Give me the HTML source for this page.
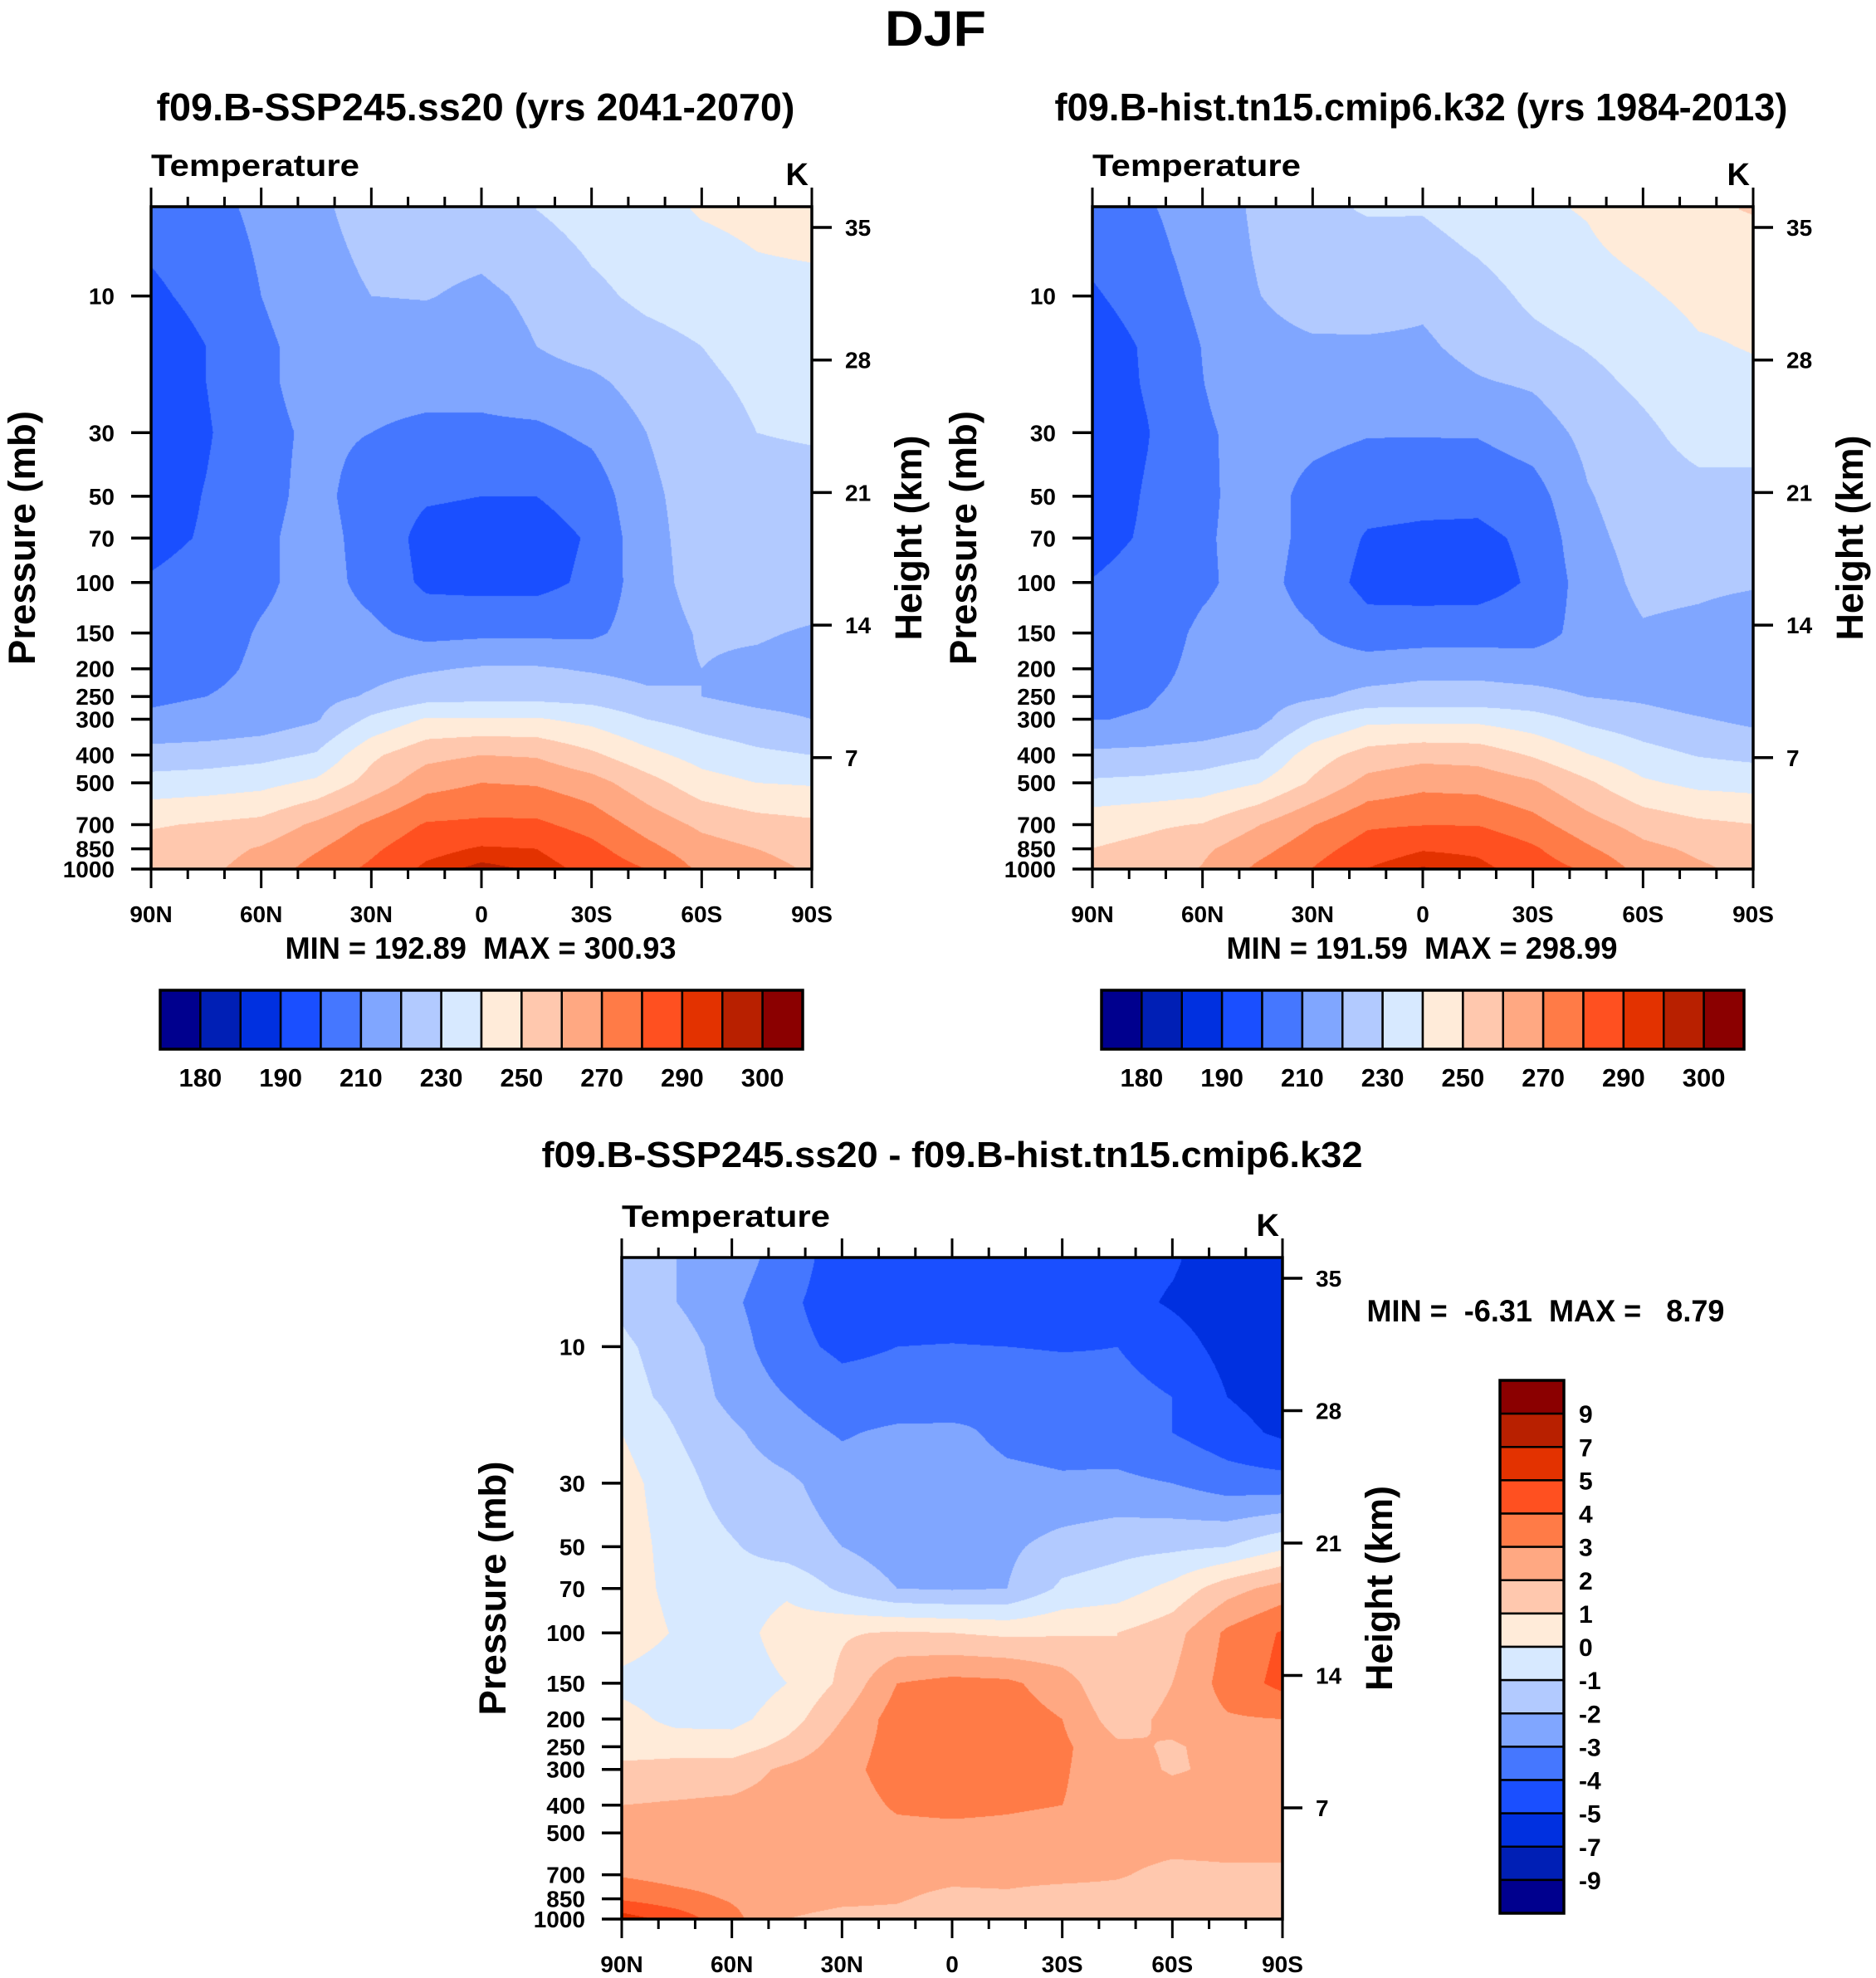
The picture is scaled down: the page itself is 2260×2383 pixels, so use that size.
<!DOCTYPE html>
<html><head><meta charset="utf-8">
<style>
html,body{margin:0;padding:0;background:#fff;}
#wrap{position:relative;width:2260px;height:2383px;overflow:hidden;background:#fff;}
canvas{position:absolute;}
svg{position:absolute;left:0;top:0;}
text{font-family:"Liberation Sans",sans-serif;font-weight:bold;fill:#000;white-space:pre;}
</style></head>
<body>
<div id="wrap">
<canvas id="cA" width="796" height="798" style="left:182px;top:249px"></canvas>
<canvas id="cB" width="796" height="798" style="left:1316px;top:249px"></canvas>
<canvas id="cD" width="796" height="797" style="left:749px;top:1515px"></canvas>
<svg id="ov" width="2260" height="2383"></svg>
</div>
<script>
// ---- data ----
const lats = ["90N","75N","60N","45N","30N","15N","0","15S","30S","45S","60S","75S","90S"];
const latTickLabels = ["90N","60N","30N","0","30S","60S","90S"];
const plevs = [5,7,10,15,20,30,50,70,100,150,200,250,300,400,500,700,850,1000];
const pTicks = [10,30,50,70,100,150,200,250,300,400,500,700,850,1000];
const hTicks = [35,28,21,14,7];
const fieldA = [
[205,207,212,218,224,226,226,230,234,236,241,243,245],
[201,205,211,217,222,223,222,226,231,234,237,240,241],
[198,203,210,216,220,220.5,218,222,228,232,234,237,237],
[194,200,208,214,215,215,215,220,224,227,230,234,235],
[194,200,208,214,213,213,213,216,218,224,228,232,233],
[194,199,207,212,210,208,208,208,212,220,225,230,231],
[195,200.5,207,213,205,201,200,200,204,218,224,226,226],
[197,201,208,214,206,197,196,196,201,217,224,225,225],
[201,204,208,214,207,198,197,197,202,216,224,225,225],
[204,205,211,214,212,207,208,208,208,215,221,221,219],
[205,207,212,215,217,219,221,221,219,217,220,218,216],
[209,210,213,217,221,226,227,227,226,222,220,217,216],
[211,212,214,219,232,241,241,241,237,230,226,223,220],
[224,225,227,231,248,257,260,259,252,243,236,232,230],
[234,235,237,242,254,266,270,269,264,254,244,240,239],
[249,251,253,262,272,281,282,282,276,266,258,254,252],
[254,256,261,269,278,287,291,290,283,273,264,260,257],
[256,258,264,274,282,292,297,294,287,280,268,263,259]];
const fieldD = [
[-1.5,-2,-2.5,-3.5,-4.5,-4.5,-4.6,-4.6,-4.6,-4.6,-4.9,-5.5,-5.5],
[-1.2,-2,-2.8,-3.8,-4.5,-4.6,-4.6,-4.7,-4.7,-4.7,-5.1,-5.5,-5.6],
[-0.8,-1.5,-2.5,-3.7,-4.2,-4.0,-3.95,-4.0,-4.1,-4.0,-4.6,-5.3,-5.5],
[-0.6,-1.3,-2.3,-3.0,-3.6,-3.6,-3.5,-3.0,-3.2,-3.6,-4.0,-5.0,-5.5],
[0,-1.0,-1.8,-2.6,-3.1,-2.8,-2.8,-3.2,-3.3,-3.5,-4.0,-4.6,-5.2],
[0.4,-0.6,-1.5,-1.8,-2.5,-2.6,-2.6,-2.8,-2.9,-2.8,-3.0,-3.5,-3.6],
[0.5,-0.4,-0.9,-1.5,-2.0,-2.5,-2.6,-2.2,-1.6,-1.3,-1.2,-1.0,-0.2],
[0.5,-0.3,-0.6,-0.2,-1.2,-2.0,-2.1,-2.0,-0.8,-0.5,0.3,1.6,2.4],
[0.6,-0.1,-0.5,0.5,0.9,1.1,1.0,0.8,0.9,1.0,1.6,3.2,4.1],
[-0.3,-0.6,-0.6,0,1.2,3.0,3.3,3.2,2.5,1.0,2.0,3.4,4.3],
[0.4,-0.3,-0.3,0.5,2.0,3.5,3.5,3.5,3.0,1.5,2.3,2.9,3.0],
[0.5,0.6,0.5,1.3,2.5,3.4,3.5,3.5,3.2,2.2,1.9,2.3,2.2],
[1.3,1.4,1.5,2.2,2.7,3.4,3.5,3.4,3.1,2.4,1.9,2.2,2.3],
[2.0,2.1,2.2,2.4,2.6,3.1,3.2,3.1,3.0,2.6,2.5,2.5,2.5],
[2.5,2.5,2.5,2.5,2.6,2.8,2.8,2.8,2.7,2.5,2.5,2.5,2.5],
[2.9,2.6,2.5,2.5,2.5,2.4,2.3,2.3,2.3,2.1,1.7,1.8,1.8],
[3.9,3.4,2.9,2.4,2.2,2.1,1.7,1.8,1.5,1.6,1.6,1.6,1.6],
[5.5,4.6,3.3,2.0,1.7,1.7,1.2,1.5,1.5,1.5,1.5,1.5,1.5]];
const levelsAbs = [180,185,190,200,210,220,230,240,250,260,270,280,290,295,300];
const levelsDiff = [-9,-7,-5,-4,-3,-2,-1,0,1,2,3,4,5,7,9];
const absLabels = ["180","190","210","230","250","270","290","300"];
const diffLabels = ["9","7","5","4","3","2","1","0","-1","-2","-3","-4","-5","-7","-9"];
const colors = ["#00008e","#001fb5","#0030e0","#1a4fff","#4577ff","#80a6ff","#b2caff","#d7e9ff","#ffebd9","#ffc8ae","#ffa882","#ff7b47","#ff5020","#e33200","#b82000","#8b0000"];
// hist field = SSP245 field minus difference
const fieldB = fieldA.map((r,i)=>r.map((v,j)=>v - fieldD[i][j]));

// ---- axis functions ----
const PTOP = 4.88;
const lgTop = Math.log10(PTOP), lgBot = 3;
function yOfP(p, h){ return (Math.log10(p)-lgTop)/(lgBot-lgTop)*h; }
function yOfH(km, h){ return (25 + (35-km)/7*159.7)/798*h; }
function rgb(h){return [parseInt(h.substr(1,2),16),parseInt(h.substr(3,2),16),parseInt(h.substr(5,2),16)];}
const crgb = colors.map(rgb);
function binOf(v, lev){ let k=0; while(k<lev.length && v>=lev[k]) k++; return k; }
const lgP = plevs.map(p=>Math.log10(p));
function sample(f, fx, lg){
  const n=lats.length-1; let xi=fx*n; let i=Math.min(Math.floor(xi),n-1); const tx=xi-i;
  let j=0; if(lg<=lgP[0]){j=0;} else { while(j<lgP.length-2 && lg>lgP[j+1]) j++; }
  let ty=(lg-lgP[j])/(lgP[j+1]-lgP[j]); ty=Math.max(0,Math.min(1,ty));
  const a=f[j][i],b=f[j][i+1],c=f[j+1][i],d=f[j+1][i+1];
  return (a*(1-tx)+b*tx)*(1-ty)+(c*(1-tx)+d*tx)*ty;
}
function draw(id, f, lev){
  const cv=document.getElementById(id), ctx=cv.getContext('2d');
  const W=cv.width,H=cv.height, img=ctx.createImageData(W,H);
  for(let y=0;y<H;y++){
    const lg=lgTop+(y+0.5)/H*(lgBot-lgTop);
    for(let x=0;x<W;x++){
      const v=sample(f,(x+0.5)/W,lg); const c=crgb[binOf(v,lev)]; const o=(y*W+x)*4;
      img.data[o]=c[0];img.data[o+1]=c[1];img.data[o+2]=c[2];img.data[o+3]=255;
    }
  }
  ctx.putImageData(img,0,0);
}
draw('cA',fieldA,levelsAbs); draw('cB',fieldB,levelsAbs); draw('cD',fieldD,levelsDiff);

// ---- SVG overlay ----
const NS="http://www.w3.org/2000/svg", ov=document.getElementById('ov');
function el(tag, at, parent){ const e=document.createElementNS(NS,tag); for(const k in at) e.setAttribute(k,at[k]); (parent||ov).appendChild(e); return e; }
function txt(s,x,y,size,anchor,name,len,rot){
  const t=el('text',{x:x,y:y,'font-size':size,'text-anchor':anchor||'middle'});
  if(len){t.setAttribute('textLength',len);t.setAttribute('lengthAdjust','spacingAndGlyphs');}
  if(rot) t.setAttribute('transform','rotate(-90 '+x+' '+y+')');
  t.textContent=s;
  
  
  return t;
}
txt("DJF",1127,55,60,'middle','figure-title',122);

function axes(L,T,W,H,pfx){
  const g=el('g',{});
  
  
  el('rect',{x:L,y:T,width:W,height:H,fill:'none',stroke:'#000','stroke-width':3.5},g);
  for(let d=0; d<=18; d++){
    const x=L+d/18*W, major=d%3===0, len=major?23:12;
    el('line',{x1:x,y1:T,x2:x,y2:T-len,stroke:'#000','stroke-width':3},g);
    el('line',{x1:x,y1:T+H,x2:x,y2:T+H+len,stroke:'#000','stroke-width':3},g);
  }
  latTickLabels.forEach((s,i)=>{ txt(s,L+i/6*W,T+H+64,28,'middle',pfx+'-lat-label-'+s); });
  pTicks.forEach(p=>{ const y=T+yOfP(p,H);
    el('line',{x1:L,y1:y,x2:L-24,y2:y,stroke:'#000','stroke-width':3.5},g);
    txt(String(p),L-44,y+10,28,'end',pfx+'-pressure-label-'+p); });
  hTicks.forEach(k=>{ const y=T+yOfH(k,H);
    el('line',{x1:L+W,y1:y,x2:L+W+24,y2:y,stroke:'#000','stroke-width':3.5},g);
    txt(String(k),L+W+40,y+10,28,'start',pfx+'-height-label-'+k); });
  txt("Temperature",L,T-37,37,'start',pfx+'-variable-label',251);
  txt("K",L+W-4,T-26,38,'end',pfx+'-units-label');
  txt("Pressure (mb)",L-140,T+H*0.5,45,'middle',pfx+'-y-axis-title',306,true);
  txt("Height (km)",L+W+132,T+H*0.5,45,'middle',pfx+'-right-axis-title',247,true);
}
axes(182,249,796,798,'ssp');
axes(1316,249,796,798,'hist');
axes(749,1515,796,797,'diff');

txt("f09.B-SSP245.ss20 (yrs 2041-2070)",573,145,46,'middle','ssp-subtitle',769);
txt("f09.B-hist.tn15.cmip6.k32 (yrs 1984-2013)",1712,145,46,'middle','hist-subtitle',883);
txt("f09.B-SSP245.ss20 - f09.B-hist.tn15.cmip6.k32",1147,1406,44,'middle','diff-subtitle',989);
txt("MIN = 192.89  MAX = 300.93",579,1155,37,'middle','ssp-min-max',471);
txt("MIN = 191.59  MAX = 298.99",1713,1155,37,'middle','hist-min-max',471);
txt("MIN =  -6.31  MAX =   8.79",1862,1592,37,'middle','diff-min-max',431);

function hbar(L,pfx){
  const T=1193,W=774,Hh=71,bw=W/16;
  const g=el('g',{});
  
  
  colors.forEach((c,i)=>{ el('rect',{x:L+i*bw,y:T,width:bw,height:Hh,fill:c,stroke:'#000','stroke-width':2.5},g); });
  el('rect',{x:L,y:T,width:W,height:Hh,fill:'none',stroke:'#000','stroke-width':3.5},g);
  absLabels.forEach((s,i)=>{ txt(s,L+(1+2*i)*bw,1309,31,'middle',pfx+'-colorbar-label-'+s); });
}
hbar(193,'ssp'); hbar(1327,'hist');
(function(){
  const L=1807,T=1663,W=77,Hh=642,bh=Hh/16;
  const g=el('g',{});
  
  
  for(let i=0;i<16;i++){ el('rect',{x:L,y:T+i*bh,width:W,height:bh,fill:colors[15-i],stroke:'#000','stroke-width':2.5},g); }
  el('rect',{x:L,y:T,width:W,height:Hh,fill:'none',stroke:'#000','stroke-width':3.5},g);
  diffLabels.forEach((s,i)=>{ txt(s,1902,T+(i+1)*bh+11,30,'start','diff-colorbar-label-'+i); });
})();
</script>
</body></html>
